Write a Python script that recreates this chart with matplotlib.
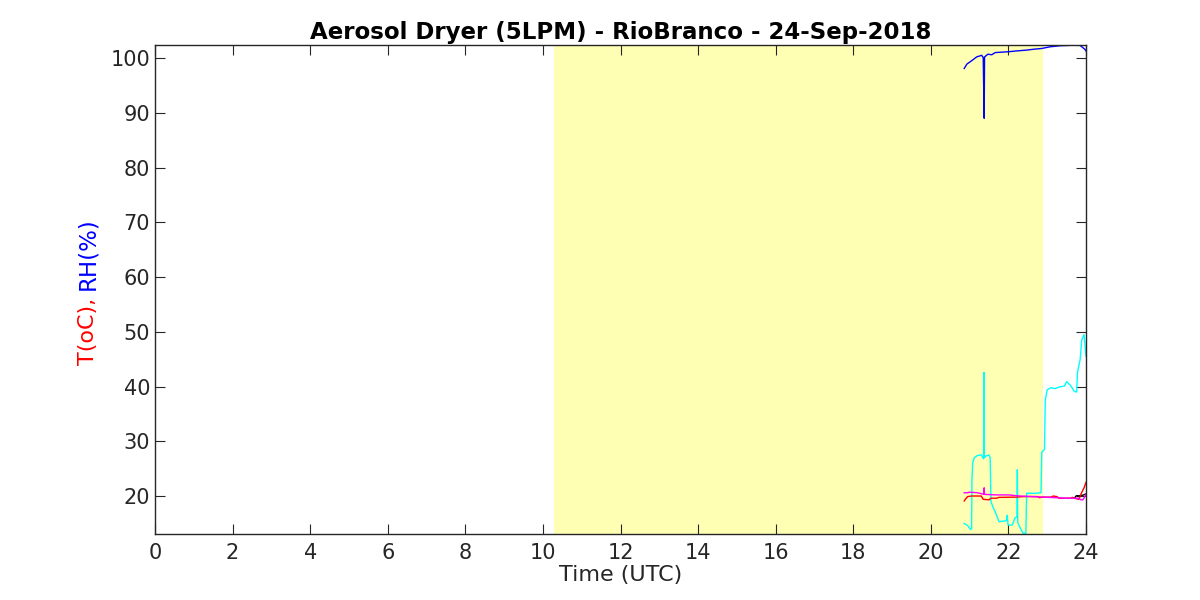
import numpy as np
import matplotlib.pyplot as plt

# night shading (UTC hours)
shade_start = 10.29
shade_end = 22.89

# RH (blue)
t_rh = [20.86, 20.93, 21.05, 21.18, 21.31, 21.35, 21.375, 21.385, 21.47, 21.57, 21.66,
        22.00, 22.21, 22.47, 22.64, 22.86, 23.07, 23.33, 23.72, 23.85, 23.97, 24.0]
rh = [98.1, 98.9, 99.5, 100.2, 100.5, 100.1, 89.0, 100.2, 100.7, 100.6, 101.0,
      101.15, 101.3, 101.45, 101.6, 101.75, 102.05, 102.25, 102.35, 102.3, 101.6, 101.3]

# second RH (cyan)
t_rh2 = [20.86, 20.95, 21.02, 21.05, 21.06, 21.08, 21.12, 21.20, 21.30, 21.36, 21.37,
         21.38, 21.42, 21.50, 21.53, 21.55, 21.60, 21.66, 21.76, 21.95, 21.97, 21.99,
         22.10, 22.17, 22.22, 22.23, 22.24, 22.30, 22.38, 22.45, 22.47, 22.50, 22.70,
         22.84, 22.86, 22.93, 22.95, 23.00, 23.10, 23.20, 23.30, 23.45, 23.50, 23.60,
         23.70, 23.76, 23.78, 23.85, 23.89, 23.95, 24.0]
rh2 = [15.0, 14.6, 13.9, 14.0, 23.0, 26.0, 27.0, 27.4, 27.5, 26.8, 42.6,
       27.0, 27.3, 27.5, 27.0, 19.0, 18.0, 17.1, 15.3, 15.5, 16.5, 14.7,
       14.7, 16.0, 16.2, 24.8, 15.2, 14.2, 13.2, 13.2, 20.5, 20.5, 20.5,
       20.6, 28.0, 28.5, 37.5, 39.4, 39.8, 39.6, 39.9, 40.1, 40.9, 40.2,
       39.1, 39.0, 42.5, 45.0, 48.5, 49.5, 45.5]

# temperatures
t_temp = [20.86, 20.90, 20.95, 21.05, 21.30, 21.35, 21.50, 21.55, 21.70, 21.75, 22.20,
          22.40, 22.75, 22.80, 22.88, 23.10, 23.15, 23.25, 23.30, 23.60, 23.65, 23.75,
          23.82, 23.88, 23.95, 24.0]
temp_red = [19.1, 19.5, 19.9, 20.0, 20.0, 19.4, 19.3, 19.6, 19.6, 19.75, 19.8,
            19.9, 19.9, 19.7, 19.8, 19.8, 20.0, 19.9, 19.6, 19.6, 19.75, 19.5,
            19.4, 20.5, 21.5, 22.5]

t_blk = [23.70, 23.75, 23.85, 23.92, 24.0]
temp_blk = [19.6, 20.05, 20.05, 20.15, 20.4]

t_mag = [20.86, 20.95, 21.00, 21.20, 21.37, 21.375, 21.38, 21.70, 22.00, 22.30, 22.90,
         23.50, 23.80, 23.87, 23.92, 23.97, 24.0]
temp_mag = [20.6, 20.6, 20.7, 20.6, 20.3, 21.5, 20.3, 20.2, 20.2, 20.0, 19.8,
            19.6, 19.6, 19.3, 19.3, 19.9, 20.3]

plt.rcParams['font.family'] = ['DejaVu Sans']
fig = plt.figure(figsize=(12, 6), dpi=100)
ax = fig.add_axes([0.1292, 0.1108, 0.7758, 0.815])

ax.axvspan(shade_start, shade_end, color='#FFFFB4', lw=0, zorder=0)
ax.plot(t_rh, rh, color='#0000FF', lw=1.0)
ax.plot(t_rh2, rh2, color='#00FFFF', lw=1.0)
ax.plot(t_blk, temp_blk, color='k', lw=1.0)
ax.plot(t_temp, temp_red, color='#FF0000', lw=1.0)
ax.plot(t_mag, temp_mag, color='#FF00FF', lw=1.0)

ax.set_xlim(0, 24)
ax.set_ylim(13.15, 102.47)
ax.set_xticks(np.arange(0, 25, 2))
ax.set_yticks(np.arange(20, 101, 10))
ax.tick_params(direction='in', length=7, width=0.8, colors='#262626',
               labelsize=15, top=True, right=True)
ax.tick_params(axis='x', pad=7)
for s in ax.spines.values():
    s.set_color('#262626')
    s.set_linewidth(1.0)

ax.set_xlabel('Time (UTC)', fontsize=16, color='#262626', labelpad=1)
ax.set_title('Aerosol Dryer (5LPM) - RioBranco - 24-Sep-2018',
             fontsize=16.5, fontweight='bold', pad=4)

fig.text(0.073, 0.391, 'T(oC),', color='red', fontsize=16, rotation=90,
         ha='center', va='bottom')
fig.text(0.073, 0.516, 'RH(%)', color='blue', fontsize=16.5, rotation=90,
         ha='center', va='bottom')

fig.savefig('out.png', dpi=100)
